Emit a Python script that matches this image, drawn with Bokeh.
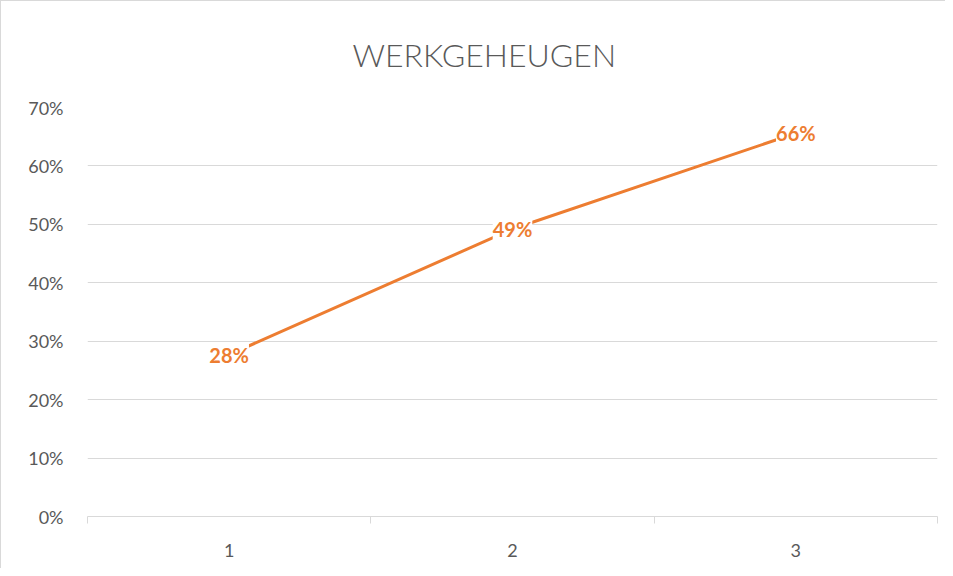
from bokeh.plotting import figure
from bokeh.models import (Range1d, FixedTicker, NumeralTickFormatter, ColumnDataSource, LabelSet)
from bokeh.core.properties import value
from bokeh.embed import file_html
from bokeh.resources import INLINE

# data
categories = [1, 2, 3]
values = [0.277, 0.492, 0.656]
labels = [f"{round(v * 100):d}%" for v in values]
y_ticks = [0, 0.1, 0.2, 0.3, 0.4, 0.5, 0.6, 0.7]
title_text = "WERKGEHEUGEN"

ORANGE = "#ED7D31"
GREY = "#595959"
GRID = "#D9D9D9"

p = figure(width=944, height=567, output_backend="svg", toolbar_location=None,
           x_range=Range1d(0.5, 3.5), y_range=Range1d(0, 0.7),
           frame_width=850, frame_height=409,
           min_border_left=86, min_border_right=8, min_border_top=106, min_border_bottom=52,
           title=title_text)
p.styles = {"border-top": "1px solid #D9D9D9", "border-left": "1px solid #D9D9D9"}
p.outline_line_color = None
p.background_fill_color = "white"
p.border_fill_color = "white"

p.title.align = "left"
p.title.offset = 265
p.title.vertical_align = "top"
p.title.text_font = "Lato Light"
p.title.text_font_style = "normal"
p.title.text_font_size = "32px"
p.title.text_color = GREY
p.title.standoff = 64

# y axis
ya = p.yaxis[0]
ya.ticker = FixedTicker(ticks=y_ticks)
ya.formatter = NumeralTickFormatter(format="0%")
ya.axis_line_color = None
ya.major_tick_line_color = None
ya.minor_tick_line_color = None
ya.major_tick_out = 0
ya.major_tick_in = 0
ya.major_label_standoff = 24
ya.major_label_text_font = "Lato"
ya.major_label_text_font_size = "18px"
ya.major_label_text_color = GREY

# x axis
xa = p.xaxis[0]
xa.ticker = FixedTicker(ticks=categories, minor_ticks=[0.5, 1.5, 2.5, 3.5])
xa.axis_line_color = GRID
xa.axis_line_width = 1
xa.major_tick_line_color = None
xa.major_tick_out = 0
xa.major_tick_in = 0
xa.minor_tick_line_color = GRID
xa.minor_tick_out = 7
xa.minor_tick_in = 0
xa.major_label_standoff = 20
xa.major_label_text_font = "Lato"
xa.major_label_text_font_size = "18px"
xa.major_label_text_color = GREY

p.xgrid.grid_line_color = None
p.ygrid.ticker = FixedTicker(ticks=y_ticks)
p.ygrid.grid_line_color = GRID
p.ygrid.grid_line_width = 1

src = ColumnDataSource(dict(x=categories, y=values, label=labels))
p.line("x", "y", source=src, line_color=ORANGE, line_width=3)

ls = LabelSet(x="x", y="y", text="label", source=src,
              text_align="center", text_baseline="middle",
              text_font=value("Lato"), text_font_style="bold", text_font_size="20px",
              text_color=ORANGE, background_fill_color="white")
p.add_layout(ls)

open("out.html", "w").write(file_html(p, INLINE))
